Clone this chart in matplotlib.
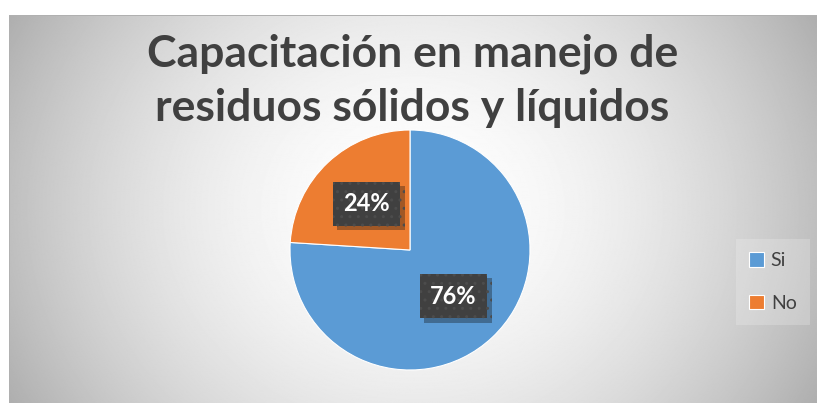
import numpy as np
import matplotlib
matplotlib.use("Agg")
import matplotlib.pyplot as plt
import matplotlib.patheffects as pe

# datos
labels = ["Si", "No"]
values = [76, 24]
colors = ["#5B9BD5", "#ED7D31"]
title = "Capacitación en manejo de\nresiduos sólidos y líquidos"

plt.rcParams["font.family"] = ["Lato", "DejaVu Sans"]

fig = plt.figure(figsize=(8.17, 4.03), dpi=100)

# fondo con degradado radial
bg = fig.add_axes([9 / 817, 0, 1 - 9 / 817, 1 - 15 / 403])
bg.set_axis_off()
yy, xx = np.mgrid[-1:1:400j, -1:1:800j]
d = np.sqrt(xx ** 2 + 0.3 * yy ** 2)
shade = np.clip(1 - 0.25 * d ** 1.8, 0, 1)
bg.imshow(shade, cmap="gray", vmin=0, vmax=1, aspect="auto", extent=[0, 1, 0, 1])
bg.plot([0, 1, 0, 0], [1, 1, 1, 0], color="#b0b0b0", lw=1.2, transform=bg.transAxes)
bg.set_xlim(0, 1)
bg.set_ylim(0, 1)

# pastel
r = 120
cx, cy = 410, 250
ax = fig.add_axes([(cx - r) / 817, 1 - (cy + r) / 403, 2 * r / 817, 2 * r / 403])
wedges, texts, autotexts = ax.pie(
    values, colors=colors, startangle=90, counterclock=False,
    autopct="%d%%", pctdistance=0.53, radius=1,
    wedgeprops=dict(edgecolor="white", linewidth=0.8),
)
ax.set_xlim(-1, 1)
ax.set_ylim(-1, 1)
ax.set_aspect("equal")
for t in autotexts:
    t.set_color("white")
    t.set_fontsize(17)
    t.set_fontweight("bold")
    t.set_bbox(dict(boxstyle="square,pad=0.45", facecolor="#404040", edgecolor="#4c4c4c",
                    hatch="..", linewidth=0))
    t.get_bbox_patch().set_path_effects([pe.SimplePatchShadow(offset=(3, -3), alpha=0.35), pe.Normal()])

fig.text(0.505, 1 - 81 / 403, title, ha="center", va="center", fontsize=32,
         fontweight="bold", color="#404040", linespacing=1.42)

leg = fig.legend(wedges, labels, loc="center", bbox_to_anchor=(773 / 817, 1 - 282 / 403),
                 frameon=True, fontsize=14, handlelength=0.75, handleheight=0.75,
                 labelspacing=1.3, handletextpad=0.35, labelcolor="#404040")
leg.get_frame().set_facecolor("#f4f4f4")
leg.get_frame().set_alpha(0.25)
leg.get_frame().set_edgecolor("none")
leg.get_frame().set_boxstyle("square")

fig.savefig("out.png", dpi=100)
